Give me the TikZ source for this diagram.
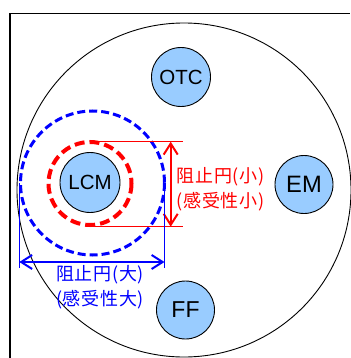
\documentclass[tikz,border=0pt]{standalone}
\usepackage{fontspec}
\setmainfont{Liberation Sans}
\newfontfamily\cjk[LetterSpace=4]{Noto Sans CJK JP}
\usetikzlibrary{arrows.meta}
\definecolor{cellblue}{HTML}{99CCFF}
\tikzset{
  cell/.style={circle, draw=black, line width=0.9pt, fill=cellblue, inner sep=0pt, minimum size=58pt, text=black},
  bluedash/.style={draw=blue, line width=3pt, dash pattern=on 8pt off 4pt},
  reddash/.style={draw=red, line width=4pt, dash pattern=on 10pt off 5pt},
  dimarrow/.style={line width=2pt, {Straight Barb[length=11pt,width=14pt]}-{Straight Barb[length=11pt,width=14pt]}},
  dimlabel/.style={font=\cjk\fontsize{18}{24.5}\selectfont, align=left, inner sep=0pt}
}
\begin{document}
\begin{tikzpicture}[x=1pt,y=-1pt]
\useasboundingbox (0,0) rectangle (350,358);
\fill[white] (0,0) rectangle (350,358);
% frame
\draw[line width=1.7pt] (10,358) -- (10,13.5) -- (350,13.5);
% dish
\draw[line width=0.9pt] (184,190) circle (167);
% inhibition circles
\draw[bluedash] (92.5,183) circle (72);
\draw[reddash] (90,183.5) circle (41.5);
% discs
\node[cell, minimum size=60pt, font=\fontsize{20.5}{24}\selectfont] (lcm) at (90,182.5) {LCM};
\node[cell, minimum size=59pt, font=\fontsize{20.5}{24}\selectfont] (otc) at (181,77) {OTC};
\node[cell, font=\fontsize{23.7}{28}\selectfont] (em) at (304,184.5) {EM};
\node[cell, font=\fontsize{23}{28}\selectfont] (ff) at (185.5,310) {FF};
% red dimension
\coordinate (rt0) at (92,141.7);
\coordinate (rt1) at (182.7,141.7);
\coordinate (rb0) at (92,226.7);
\coordinate (rb1) at (182.7,226.7);
\coordinate (ra0) at (170.7,141.7);
\coordinate (ra1) at (170.7,226.7);
\draw[red, line width=1.2pt] (rt0) -- (rt1);
\draw[red, line width=1.2pt] (rb0) -- (rb1);
\draw[red, dimarrow] (ra0) -- (ra1);
\node[dimlabel, text=red, anchor=west] (rlab) at (176.5,189.3) {阻止円(小)\\(感受性小)};
% blue dimension
\coordinate (bl0) at (19.3,183);
\coordinate (bl1) at (19.3,268);
\coordinate (br0) at (164.5,183);
\coordinate (br1) at (164.5,268);
\coordinate (ba0) at (19.3,262);
\coordinate (ba1) at (164.5,262);
\draw[blue, line width=1pt] (bl0) -- (bl1);
\draw[blue, line width=1pt] (br0) -- (br1);
\draw[blue, dimarrow] (ba0) -- (ba1);
\node[dimlabel, text=blue] (blab) at (100,287) {阻止円(大)\\(感受性大)};
\end{tikzpicture}
\end{document}
